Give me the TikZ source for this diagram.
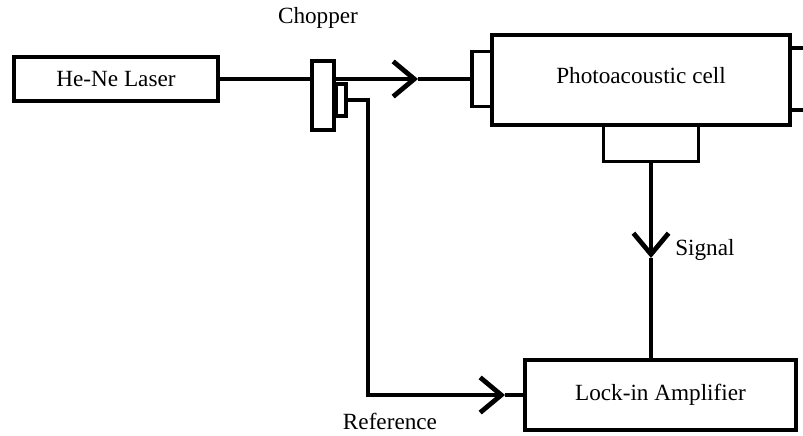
\documentclass[tikz,border=0pt]{standalone}
\usepackage{fontspec}
\setmainfont{Liberation Serif}
\usepackage{tikz}
\usetikzlibrary{arrows.meta}

\begin{document}
\begin{tikzpicture}[x=0.025cm,y=-0.025cm,
  box/.style={draw,fill=white,line width=2.8pt,inner sep=0pt,font=\fontsize{16.5}{20}\selectfont},
  win/.style={draw,fill=white,line width=2.2pt,inner sep=0pt},
  wire/.style={line width=2.8pt},
  barb/.style={-{Straight Barb[length=15pt,width=25pt,line width=3.4pt]}},
  lbl/.style={font=\fontsize{16.5}{20}\selectfont,inner sep=0pt}]
\useasboundingbox (0,0) rectangle (803,435);
% source and chopper
\node[box,minimum width=5.1cm,minimum height=1.1cm] (laser) at (116,79) {He-Ne Laser};
\node[win,minimum width=0.25cm,minimum height=0.8cm] (tab) at (341,100) {};
\node[win,minimum width=0.55cm,minimum height=1.725cm] (chopper) at (323,95.5) {};
\node[lbl] (choplbl) at (318,18) {Chopper};
% cell with its windows
\node[win,minimum width=0.55cm,minimum height=1.375cm] (lwin) at (483,79) {};
\node[win,minimum width=0.8cm,minimum height=1.55cm] (rwin) at (800,79) {};
\node[win,minimum width=2.375cm,minimum height=0.925cm] (bwin) at (651,143) {};
\node[box,minimum width=7.45cm,minimum height=2.25cm] (cell) at (641,80) {};
\node[lbl] (celllbl) at (641,76) {Photoacoustic cell};
% amplifier
\node[box,minimum width=6.775cm,minimum height=1.75cm] (lockin) at (660.5,395) {Lock-in Amplifier};
\node[lbl] (reflbl) at (390,421) {Reference};
\node[lbl,anchor=west] (siglbl) at (675,250) {Signal};
% beam
\coordinate (beamtip) at (418,79);
\draw[wire] (laser.east) -- (chopper.west |- laser.east);
\draw[wire,barb] (chopper.east |- laser.east) -- (beamtip);
\draw[wire] (beamtip) -- (lwin.west);
% signal
\coordinate (sigtip) at (651,258);
\draw[wire,barb] (bwin.south) -- (sigtip);
\draw[wire] (sigtip) -- (lockin.north -| sigtip);
% reference
\coordinate (refbend) at (368,100);
\coordinate (reftip) at (505,395);
\draw[wire,barb] (tab.east) -- (refbend) -- (refbend |- reftip) -- (reftip);
\draw[wire] (reftip) -- (lockin.west);
\end{tikzpicture}
\end{document}
